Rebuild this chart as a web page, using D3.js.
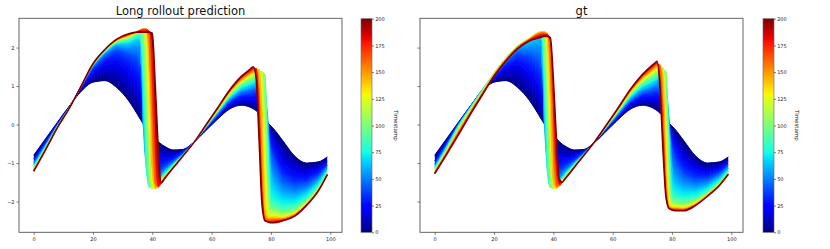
<!DOCTYPE html>
<html><head><meta charset="utf-8">
<script src="https://cdn.jsdelivr.net/npm/d3@7"></script>
<style>
body{margin:0;background:#fff}
svg{display:block}
text{font-family:"DejaVu Sans",sans-serif}
</style>
</head><body>
<svg id="c" width="830" height="249"></svg>
<script>
// ---------------- data ----------------
const xs = [0,4,8,12,16,20,24,28,32,35,36,37,38,39,40,41,42,43,44,47,50,54,58,62,66,70,73,74,75,76,77,78,79,80,81,84,88,92,96,99];
const timestamps = [0,20,40,60,80,100,120,140,160,180,200];
const initialState = [-0.80,-0.37,0.06,0.48,0.86,1.10,1.14,0.96,0.62,0.26, 0.13,0.01,-0.10,-0.20,-0.29,-0.37,-0.44,-0.51,-0.56,-0.66, -0.65,-0.46,-0.16,0.14,0.40,0.50,0.45,0.41,0.36,0.29, 0.21,0.12,0.04,-0.04,-0.12,-0.42,-0.82,-1.00,-0.97,-0.84];

const predT20 = [-0.90,-0.44,0.03,0.47,0.93,1.34,1.55,1.59,1.35,1.10, 0.80,0.35,-0.20,-0.60,-0.80,-0.86,-0.88,-0.88,-0.87,-0.83, -0.71,-0.46,-0.13,0.20,0.50,0.65,0.65,0.66,0.64,0.58, 0.46,0.28,0.05,-0.22,-0.45,-0.961,-1.226,-1.286,-1.165,-0.96];
const predT40 = [-0.985,-0.50,0.00,0.454,0.97,1.47,1.77,1.94,1.83,1.72, 1.55,1.00,-0.30,-1.05,-1.25,-1.28,-1.25,-1.19,-1.12,-0.95, -0.77,-0.46,-0.11,0.25,0.59,0.79,0.83,0.86,0.87,0.83, 0.70,0.42,-0.15,-0.65,-0.92,-1.418,-1.569,-1.528,-1.33,-1.061];
const predT60 = [-1.05,-0.544,-0.024,0.444,0.983,1.52,1.85,2.07,2.05,2.15, 2.12,-0.10,-1.15,-1.55,-1.60,-1.53,-1.44,-1.33,-1.22,-1.01, -0.80,-0.465,-0.087,0.29,0.655,0.89,0.965,1.00,1.04,1.05, 1.00,0.82,0.10,-1.20,-1.50,-1.793,-1.85,-1.726,-1.465,-1.144];
const predT80 = [-1.10,-0.58,-0.04,0.437,0.989,1.54,1.885,2.12,2.17,2.28, 2.30,1.30,-1.20,-1.63,-1.62,-1.56,-1.48,-1.38,-1.29,-1.055, -0.816,-0.467,-0.072,0.323,0.709,0.973,1.074,1.11,1.16,1.20, 1.21,1.12,-0.50,-1.95,-2.00,-2.126,-2.099,-1.902,-1.585,-1.217];
const predT100 = [-1.136,-0.602,-0.052,0.432,0.992,1.554,1.905,2.151,2.238,2.35, 2.40,2.38,0.60,-1.60,-1.66,-1.60,-1.52,-1.43,-1.34,-1.083, -0.829,-0.468,-0.059,0.349,0.753,1.04,1.163,1.20,1.26,1.31, 1.36,1.30,-1.70,-2.20,-2.20,-2.292,-2.224,-1.99,-1.645,-1.254];
const predT120 = [-1.161,-0.619,-0.06,0.428,0.994,1.561,1.918,2.17,2.273,2.40, 2.45,2.46,2.30,-0.20,-1.67,-1.64,-1.56,-1.46,-1.36,-1.097, -0.835,-0.469,-0.048,0.372,0.792,1.10,1.242,1.28,1.34,1.39, 1.38,-0.60,-2.30,-2.33,-2.32,-2.375,-2.286,-2.034,-1.675,-1.272];
const predT140 = [-1.178,-0.631,-0.066,0.426,0.996,1.567,1.927,2.185,2.299,2.42, 2.47,2.49,2.49,1.40,-1.20,-1.67,-1.60,-1.49,-1.38,-1.109, -0.841,-0.469,-0.04,0.389,0.821,1.145,1.301,1.35,1.41,1.44, 0.30,-2.25,-2.42,-2.42,-2.41,-2.427,-2.325,-2.062,-1.694,-1.284];
const predT160 = [-1.195,-0.643,-0.072,0.424,0.998,1.572,1.936,2.199,2.322,2.42, 2.46,2.48,2.48,2.40,0.20,-1.55,-1.62,-1.51,-1.40,-1.118, -0.845,-0.47,-0.033,0.404,0.846,1.183,1.351,1.41,1.46,0.90, -1.50,-2.45,-2.48,-2.48,-2.47,-2.458,-2.349,-2.078,-1.705,-1.291];
const predT180 = [-1.207,-0.651,-0.076,0.422,0.999,1.576,1.944,2.21,2.343,2.41, 2.44,2.45,2.45,2.43,2.00,-0.40,-1.62,-1.52,-1.41,-1.125, -0.848,-0.47,-0.026,0.418,0.87,1.22,1.40,1.46,1.45,0.30, -1.80,-2.48,-2.52,-2.52,-2.52,-2.483,-2.368,-2.091,-1.714,-1.296];
const predT200 = [-1.22,-0.66,-0.08,0.42,1.00,1.58,1.95,2.22,2.36,2.40, 2.40,2.40,2.40,2.39,2.37,1.00,-0.60,-1.52,-1.42,-1.13, -0.85,-0.47,-0.02,0.43,0.89,1.25,1.44,1.50,1.20,-0.40, -2.10,-2.50,-2.53,-2.55,-2.55,-2.50,-2.38,-2.10,-1.72,-1.30];

const gtT20 = [-0.944,-0.452,0.04,0.476,0.89,1.20,1.45,1.55,1.30,1.00, 0.72,0.30,-0.20,-0.58,-0.78,-0.86,-0.88,-0.88,-0.87,-0.82, -0.71,-0.447,-0.128,0.202,0.504,0.66,0.664,0.68,0.67,0.62, 0.50,0.32,0.08,-0.20,-0.43,-0.893,-1.153,-1.224,-1.129,-0.957];
const gtT40 = [-1.04,-0.518,0.02,0.469,0.90,1.25,1.60,1.85,1.80,1.65, 1.45,0.85,-0.35,-1.05,-1.25,-1.28,-1.25,-1.19,-1.12,-0.95, -0.754,-0.446,-0.099,0.258,0.598,0.804,0.857,0.89,0.91,0.88, 0.77,0.50,-0.05,-0.60,-0.90,-1.294,-1.434,-1.413,-1.263,-1.056];
const gtT60 = [-1.098,-0.567,-0.006,0.458,0.90,1.32,1.70,2.01,2.10,2.20, 2.20,0.00,-1.15,-1.55,-1.60,-1.53,-1.44,-1.34,-1.24,-1.005, -0.783,-0.445,-0.077,0.301,0.67,0.916,1.006,1.05,1.10,1.12, 1.08,0.92,0.20,-1.10,-1.45,-1.621,-1.665,-1.568,-1.373,-1.137];
const gtT80 = [-1.136,-0.608,-0.039,0.436,0.89,1.34,1.73,2.04,2.20,2.30, 2.35,1.40,-1.25,-1.63,-1.62,-1.56,-1.48,-1.39,-1.30,-1.046, -0.80,-0.444,-0.059,0.335,0.728,1.004,1.124,1.17,1.23,1.28, 1.30,1.25,-0.30,-1.75,-1.85,-1.912,-1.87,-1.705,-1.47,-1.209];
const gtT100 = [-1.17,-0.645,-0.079,0.407,0.87,1.34,1.73,2.05,2.24,2.36, 2.40,2.30,0.30,-1.60,-1.66,-1.60,-1.52,-1.43,-1.34,-1.074, -0.811,-0.443,-0.045,0.363,0.774,1.076,1.22,1.27,1.34,1.39, 1.42,1.38,-1.20,-2.00,-2.02,-2.058,-1.972,-1.774,-1.519,-1.245];
const gtT120 = [-1.198,-0.678,-0.122,0.374,0.85,1.33,1.72,2.04,2.25,2.40, 2.42,2.42,1.90,-0.80,-1.67,-1.63,-1.55,-1.46,-1.36,-1.088, -0.817,-0.443,-0.032,0.388,0.816,1.14,1.306,1.36,1.43,1.48, 1.48,0.40,-1.90,-2.10,-2.10,-2.131,-2.023,-1.808,-1.543,-1.263];
const gtT140 = [-1.222,-0.706,-0.161,0.344,0.83,1.31,1.71,2.03,2.24,2.39, 2.41,2.41,2.35,0.80,-1.50,-1.66,-1.58,-1.48,-1.38,-1.099, -0.821,-0.442,-0.022,0.407,0.847,1.188,1.37,1.43,1.50,1.55, 1.30,-1.00,-2.10,-2.15,-2.15,-2.176,-2.055,-1.83,-1.559,-1.274];
const gtT160 = [-1.242,-0.731,-0.197,0.313,0.81,1.29,1.69,2.01,2.22,2.36, 2.38,2.38,2.36,2.00,-0.30,-1.60,-1.60,-1.50,-1.39,-1.109, -0.825,-0.441,-0.014,0.422,0.873,1.228,1.424,1.49,1.56,1.55, 0.40,-1.60,-2.15,-2.18,-2.19,-2.204,-2.074,-1.843,-1.568,-1.281];
const gtT180 = [-1.261,-0.755,-0.234,0.286,0.785,1.27,1.67,1.99,2.20,2.31, 2.33,2.34,2.33,2.20,0.80,-1.00,-1.55,-1.51,-1.40,-1.115, -0.828,-0.44,-0.006,0.438,0.899,1.268,1.477,1.54,1.61,1.20, -0.30,-1.85,-2.17,-2.20,-2.22,-2.225,-2.09,-1.853,-1.575,-1.286];
const gtT200 = [-1.28,-0.78,-0.27,0.26,0.76,1.25,1.65,1.97,2.17,2.25, 2.27,2.29,2.29,2.26,1.20,-0.30,-1.42,-1.50,-1.41,-1.12, -0.83,-0.44,0.00,0.45,0.92,1.30,1.52,1.58,1.64,0.90, -0.70,-1.90,-2.18,-2.22,-2.24,-2.24,-2.10,-1.86,-1.58,-1.29];

const predCurves = [initialState,predT20,predT40,predT60,predT80,predT100,predT120,predT140,predT160,predT180,predT200];
const gtCurves = [initialState,gtT20,gtT40,gtT60,gtT80,gtT100,gtT120,gtT140,gtT160,gtT180,gtT200];

const xTicks = [0,20,40,60,80,100];
const yTicks = [-2,-1,0,1,2];
const cbTicks = [0,25,50,75,100,125,150,175,200];
const panelTitles = ["Long rollout prediction","gt"];
const cbLabel = "Timestamp";

// ---------------- colormap (jet) ----------------
function seg(pts, v){
  for (let i=1;i<pts.length;i++){
    if (v<=pts[i][0]){ const [a0,b0]=pts[i-1],[a1,b1]=pts[i]; return b0+(b1-b0)*(v-a0)/(a1-a0); }
  }
  return pts[pts.length-1][1];
}
function jet(v){
  v=Math.max(0,Math.min(1,v));
  const r=seg([[0,0],[0.35,0],[0.66,1],[0.89,1],[1,0.5]],v);
  const g=seg([[0,0],[0.125,0],[0.375,1],[0.64,1],[0.91,0],[1,0]],v);
  const b=seg([[0,0.5],[0.11,1],[0.34,1],[0.65,0],[1,0]],v);
  return d3.rgb(r*255,g*255,b*255).formatHex();
}

// ---------------- drawing ----------------
(function(){
const svg = d3.select("#c");
svg.append("rect").attr("width",830).attr("height",249).attr("fill","#fff");
const defs = svg.append("defs");
const yTop = 18.3, yBottom = 232.3;
const panels = [
  {x0:19, x1:342, cb0:361, cb1:372, lab:393.5, curves:predCurves, title:panelTitles[0], ylabels:true},
  {x0:420, x1:743, cb0:763, cb1:774, lab:795, curves:gtCurves, title:panelTitles[1], ylabels:false}
];

const grad = defs.append("linearGradient").attr("id","jetgrad").attr("x1",0).attr("y1",1).attr("x2",0).attr("y2",0);
for (let i=0;i<=64;i++){ grad.append("stop").attr("offset",i/64).attr("stop-color",jet(i/64)); }

const tmin = timestamps[0], tmax = timestamps[timestamps.length-1];
const norm = t => (t-tmin)/(tmax-tmin);
let gcount = 0;

panels.forEach((p,pi)=>{
  const x = d3.scaleLinear().domain([-4.95,103.95]).range([p.x0,p.x1]);
  const y = d3.scaleLinear().domain([-2.80,2.76]).range([yBottom,yTop]);
  const clipId = "clip"+pi;
  defs.append("clipPath").attr("id",clipId).append("rect")
    .attr("x",p.x0).attr("y",yTop).attr("width",p.x1-p.x0).attr("height",yBottom-yTop);
  const g = svg.append("g").attr("clip-path",`url(#${clipId})`);

  const line = d3.line().x((d,i)=>x(xs[i])).y(d=>y(d)).curve(d3.curveMonotoneX);
  const area = d3.area().x(d=>x(d[0])).y0(d=>y(d[1])).y1(d=>y(d[2])).curve(d3.curveMonotoneX);

  g.append("path").attr("d",line(p.curves[0])).attr("fill","none")
    .attr("stroke",jet(0)).attr("stroke-width",1.0);

  for (let k=1;k<p.curves.length;k++){
    const a = p.curves[k-1], b = p.curves[k];
    const t0 = timestamps[k-1], t1 = timestamps[k];
    const c0 = jet(norm(t0)), cm = jet(norm((t0+t1)/2)), c1 = jet(norm(t1));
    const pairs = xs.map((xv,i)=>[xv,a[i],b[i]]);
    const bandId = `band${pi}_${k}`;
    defs.append("clipPath").attr("id",bandId).append("path").attr("d",area(pairs));
    const bg = g.append("g").attr("clip-path",`url(#${bandId})`);
    for (let i=0;i<xs.length-1;i++){
      const pxL = x(xs[i]), pxR = x(xs[i+1]);
      const yA0 = y(a[i]), yA1 = y(a[i+1]), yB0 = y(b[i]), yB1 = y(b[i+1]);
      const lo = Math.min(yA0,yA1,yB0,yB1)-2, hi = Math.max(yA0,yA1,yB0,yB1)+2;
      const n = Math.max(1, Math.round((pxR-pxL)/1.5));
      for (let s=0;s<n;s++){
        const u = (s+0.5)/n;
        const ya = yA0+(yA1-yA0)*u, yb = yB0+(yB1-yB0)*u;
        const xl = pxL+(pxR-pxL)*s/n-0.35, xr = pxL+(pxR-pxL)*(s+1)/n+0.35;
        let fill = cm;
        if (Math.abs(ya-yb) > 0.4){
          const gid = `gr${gcount++}`;
          const lg = defs.append("linearGradient").attr("id",gid).attr("gradientUnits","userSpaceOnUse")
            .attr("x1",0).attr("x2",0).attr("y1",ya).attr("y2",yb);
          lg.append("stop").attr("offset",0).attr("stop-color",c0);
          lg.append("stop").attr("offset",0.5).attr("stop-color",cm);
          lg.append("stop").attr("offset",1).attr("stop-color",c1);
          fill = `url(#${gid})`;
        }
        bg.append("rect").attr("x",xl).attr("y",lo).attr("width",xr-xl).attr("height",hi-lo).attr("fill",fill);
      }
    }
    const last = k===p.curves.length-1;
    g.append("path").attr("d",line(b)).attr("fill","none")
      .attr("stroke",c1).attr("stroke-width",last?1.6:0.9);
  }

  svg.append("rect").attr("x",p.x0).attr("y",yTop).attr("width",p.x1-p.x0).attr("height",yBottom-yTop)
    .attr("fill","none").attr("stroke","#555").attr("stroke-width",0.9);

  const xa = svg.append("g").attr("transform",`translate(0,${yBottom})`)
    .call(d3.axisBottom(x).tickValues(xTicks).tickSize(2.5).tickPadding(3));
  const ya = svg.append("g").attr("transform",`translate(${p.x0},0)`)
    .call(d3.axisLeft(y).tickValues(yTicks).tickSize(2.5).tickPadding(2)
      .tickFormat(p.ylabels ? (d=> d<0 ? "\u2212"+Math.abs(d) : String(d)) : ()=>""));
  [xa,ya].forEach(ax=>{
    ax.select(".domain").remove();
    ax.selectAll("line").attr("stroke","#444").attr("stroke-width",0.7);
    ax.selectAll("text").attr("font-size","5px").attr("fill","#222").style("font-family","DejaVu Sans");
  });

  svg.append("text").attr("x",(p.x0+p.x1)/2).attr("y",15).attr("text-anchor","middle")
    .attr("font-size","11.5px").attr("fill","#111").text(p.title);

  const cb = d3.scaleLinear().domain([tmin,tmax]).range([yBottom,yTop+0.4]);
  svg.append("rect").attr("x",p.cb0).attr("y",yTop+0.4).attr("width",p.cb1-p.cb0).attr("height",yBottom-yTop-0.4)
    .attr("fill","url(#jetgrad)").attr("stroke","#666").attr("stroke-width",0.6);
  const ca = svg.append("g").attr("transform",`translate(${p.cb1},0)`)
    .call(d3.axisRight(cb).tickValues(cbTicks).tickSize(2).tickPadding(1.2));
  ca.select(".domain").remove();
  ca.selectAll("line").attr("stroke","#444").attr("stroke-width",0.7);
  ca.selectAll("text").attr("font-size","5px").attr("fill","#222").style("font-family","DejaVu Sans");
  svg.append("text").attr("transform",`translate(${p.lab},${(yTop+yBottom)/2}) rotate(90)`)
    .attr("text-anchor","middle").attr("font-size","5.5px").attr("fill","#222").text(cbLabel);
});
})();
</script>
</body></html>
